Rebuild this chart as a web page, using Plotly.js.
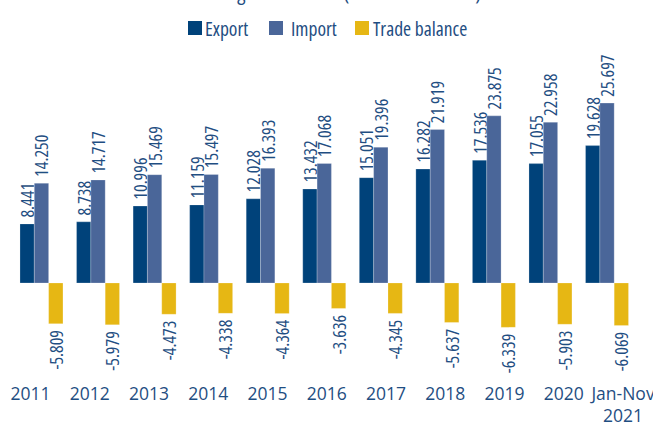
<!DOCTYPE html>
<html>
<head>
<meta charset="utf-8">
<script src="https://cdn.plot.ly/plotly-3.0.1.min.js"></script>
<style>
html,body{margin:0;padding:0;background:#fff;}
#chart{width:653px;height:426px;}
svg text{font-stretch:100%;}
svg text.bartext{font-stretch:75% !important;}
svg text.gtitle{font-stretch:75% !important;}
svg text.annotation-text{font-stretch:87.5% !important;}
</style>
</head>
<body>
<div id="chart"></div>
<script>
const categories = ['2011','2012','2013','2014','2015','2016','2017','2018','2019','2020','Jan-Nov 2021'];
const tickLabels = ['2011','2012','2013','2014','2015','2016','2017','2018','2019','2020','Jan-Nov<br>2021'];
const seriesNames = ['Export', 'Import', 'Trade balance'];
const exportValues = [8.441, 8.738, 10.996, 11.159, 12.028, 13.432, 15.051, 16.282, 17.536, 17.055, 19.628];
const importValues = [14.250, 14.717, 15.469, 15.497, 16.393, 17.068, 19.396, 21.919, 23.875, 22.958, 25.697];
const balanceValues = [-5.809, -5.979, -4.473, -4.338, -4.364, -3.636, -4.345, -5.637, -6.339, -5.903, -6.069];
const colors = ['#00427a', '#4a6699', '#e6b714'];

const FONT = '"Open Sans", sans-serif';
const TXT = '#1f4e82';
const W = 653, H = 426;
const M = {l: 1, r: 0, t: 45, b: 46};

function series(i, y, tmpl) {
  return {
    type: 'bar', name: seriesNames[i], x: categories, y: y, xaxis: 'x', yaxis: 'y',
    marker: {color: colors[i], line: {color: 'rgba(255,255,255,0.45)', width: 0.5}},
    texttemplate: tmpl, textposition: 'outside', textangle: -90,
    textfont: {family: FONT, size: 18, color: TXT},
    constraintext: 'none', cliponaxis: false, hoverinfo: 'x+y', showlegend: false
  };
}

const data = [
  series(0, exportValues, '\u00a0%{y:.3f}'),
  series(1, importValues, '\u00a0%{y:.3f}'),
  series(2, balanceValues, '%{y:.3f}\u00a0'),
  // empty carrier trace so the category-label axis (x2) is drawn
  {type: 'scatter', mode: 'markers', x: [], y: [], xaxis: 'x2', yaxis: 'y', showlegend: false, hoverinfo: 'skip'}
];

// custom legend (pixel layout converted to paper coordinates)
const pw = W - M.l - M.r, ph = H - M.t - M.b;
const px = v => (v - M.l) / pw;
const py = v => (H - M.b - v) / ph;
const swatchX = [188, 269, 355];
const labelX = [203, 289, 371];
const shapes = seriesNames.map((n, i) => ({
  type: 'rect', xref: 'paper', yref: 'paper',
  x0: px(swatchX[i]), x1: px(swatchX[i] + 14), y0: py(35), y1: py(21),
  fillcolor: colors[i], line: {width: 0}
}));
const annotations = seriesNames.map((n, i) => ({
  text: n, xref: 'paper', yref: 'paper', x: px(labelX[i]), y: py(28),
  xanchor: 'left', yanchor: 'middle', showarrow: false,
  font: {family: FONT, size: 19.5, color: TXT}
}));

const layout = {
  width: W, height: H,
  margin: M,
  paper_bgcolor: '#fff', plot_bgcolor: 'rgba(0,0,0,0)',
  font: {family: FONT, color: TXT, size: 18},
  title: {text: 'Foreign trade flows (in millions of EUR)', font: {family: FONT, size: 21, color: TXT},
          x: 341 / W, xanchor: 'center', yref: 'container', y: 1, yanchor: 'bottom', pad: {b: 0}},
  barmode: 'group', bargap: 0.24, bargroupgap: 0,
  showlegend: false,
  shapes: shapes,
  annotations: annotations,
  xaxis: {type: 'category', domain: [(13.2 - M.l) / pw, (635.3 - M.l) / pw],
          showgrid: false, zeroline: false, showline: false, ticks: '', showticklabels: false, fixedrange: true},
  xaxis2: {type: 'linear', anchor: 'y', side: 'bottom', domain: [0, 1], range: [-0.498, 10.506],
           autorange: false, tickmode: 'array', tickvals: categories.map((c, i) => i), ticktext: tickLabels,
           ticklabeloverflow: 'allow',
           showgrid: false, zeroline: false, showline: false, ticks: '', ticklabelstandoff: 1,
           tickfont: {family: FONT, size: 17.5, color: TXT}, fixedrange: true},
  yaxis: {visible: false, range: [-13.86, 34.0], showgrid: false, zeroline: false, fixedrange: true}
};

Plotly.newPlot('chart', data, layout, {displayModeBar: false, staticPlot: true});
</script>
</body>
</html>
